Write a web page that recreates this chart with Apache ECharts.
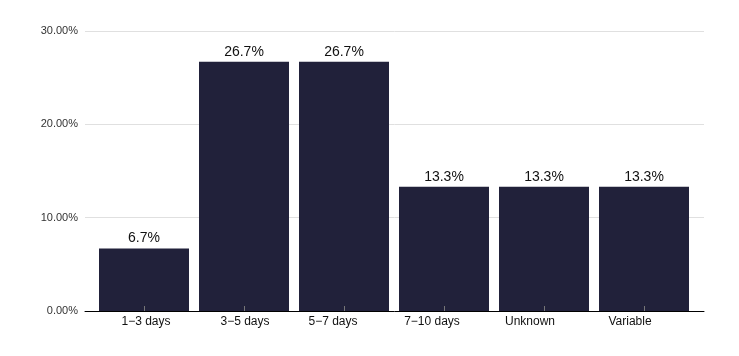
<!DOCTYPE html>
<html>
<head>
<meta charset="utf-8">
<script src="https://cdn.jsdelivr.net/npm/echarts@6/dist/echarts.min.js"></script>
<style>html,body{margin:0;padding:0;background:#fff;}#c{width:739px;height:356px;}</style>
</head>
<body>
<div id="c"></div>
<script>
var categories = ['1−3 days', '3−5 days', '5−7 days', '7−10 days', 'Unknown', 'Variable'];
var values = [6.7, 26.7, 26.7, 13.3, 13.3, 13.3];
var yTicks = [0, 10, 20, 30];
var labelShift = [2, 1, -11, -12, -14, -14];

var rich = {};
labelShift.forEach(function (s, i) {
  rich['s' + i] = {
    fontSize: 12, color: '#111', fontFamily: 'Liberation Sans, Arial, sans-serif',
    padding: s >= 0 ? [0, 0, 0, 2 * s] : [0, -2 * s, 0, 0]
  };
});

var chart = echarts.init(document.getElementById('c'));
chart.setOption({
  animation: false,
  backgroundColor: '#fff',
  grid: [
    { left: 85, right: 35, top: 31, bottom: 45 },
    { left: 94, right: 45, top: 31, bottom: 45 }
  ],
  xAxis: [
    { gridIndex: 0, type: 'value', min: 0, max: 1,
      axisLine: { show: true, onZero: false, lineStyle: { color: '#000', width: 1 } },
      axisTick: { show: false }, axisLabel: { show: false }, splitLine: { show: false } },
    { gridIndex: 1, type: 'category', data: categories, z: 10,
      axisLine: { show: false },
      axisTick: { show: true, inside: true, alignWithLabel: true, length: 5, lineStyle: { color: '#777' } },
      axisLabel: { margin: 5, interval: 0,
        formatter: function (v, i) { return '{s' + i + '|' + v + '}'; },
        rich: rich } }
  ],
  yAxis: [
    { gridIndex: 0, type: 'value', min: yTicks[0], max: yTicks[yTicks.length - 1], interval: 10,
      axisLine: { show: false }, axisTick: { show: false },
      axisLabel: { margin: 7, fontSize: 11, color: '#333', fontFamily: 'Liberation Sans, Arial, sans-serif',
        formatter: function (v) { return v.toFixed(2) + '%'; } },
      splitLine: { show: true, lineStyle: { color: '#e0e0e0', width: 1 } } },
    { gridIndex: 1, type: 'value', min: yTicks[0], max: yTicks[yTicks.length - 1], interval: 10,
      show: false, splitLine: { show: false } }
  ],
  series: [{
    type: 'bar',
    xAxisIndex: 1, yAxisIndex: 1,
    data: values,
    barCategoryGap: '10%',
    itemStyle: { color: '#21213a' },
    label: { show: true, position: 'top', distance: 3, fontSize: 14, color: '#111',
      fontFamily: 'Liberation Sans, Arial, sans-serif',
      formatter: function (p) { return p.value.toFixed(1) + '%'; } }
  }]
});
</script>
</body>
</html>
